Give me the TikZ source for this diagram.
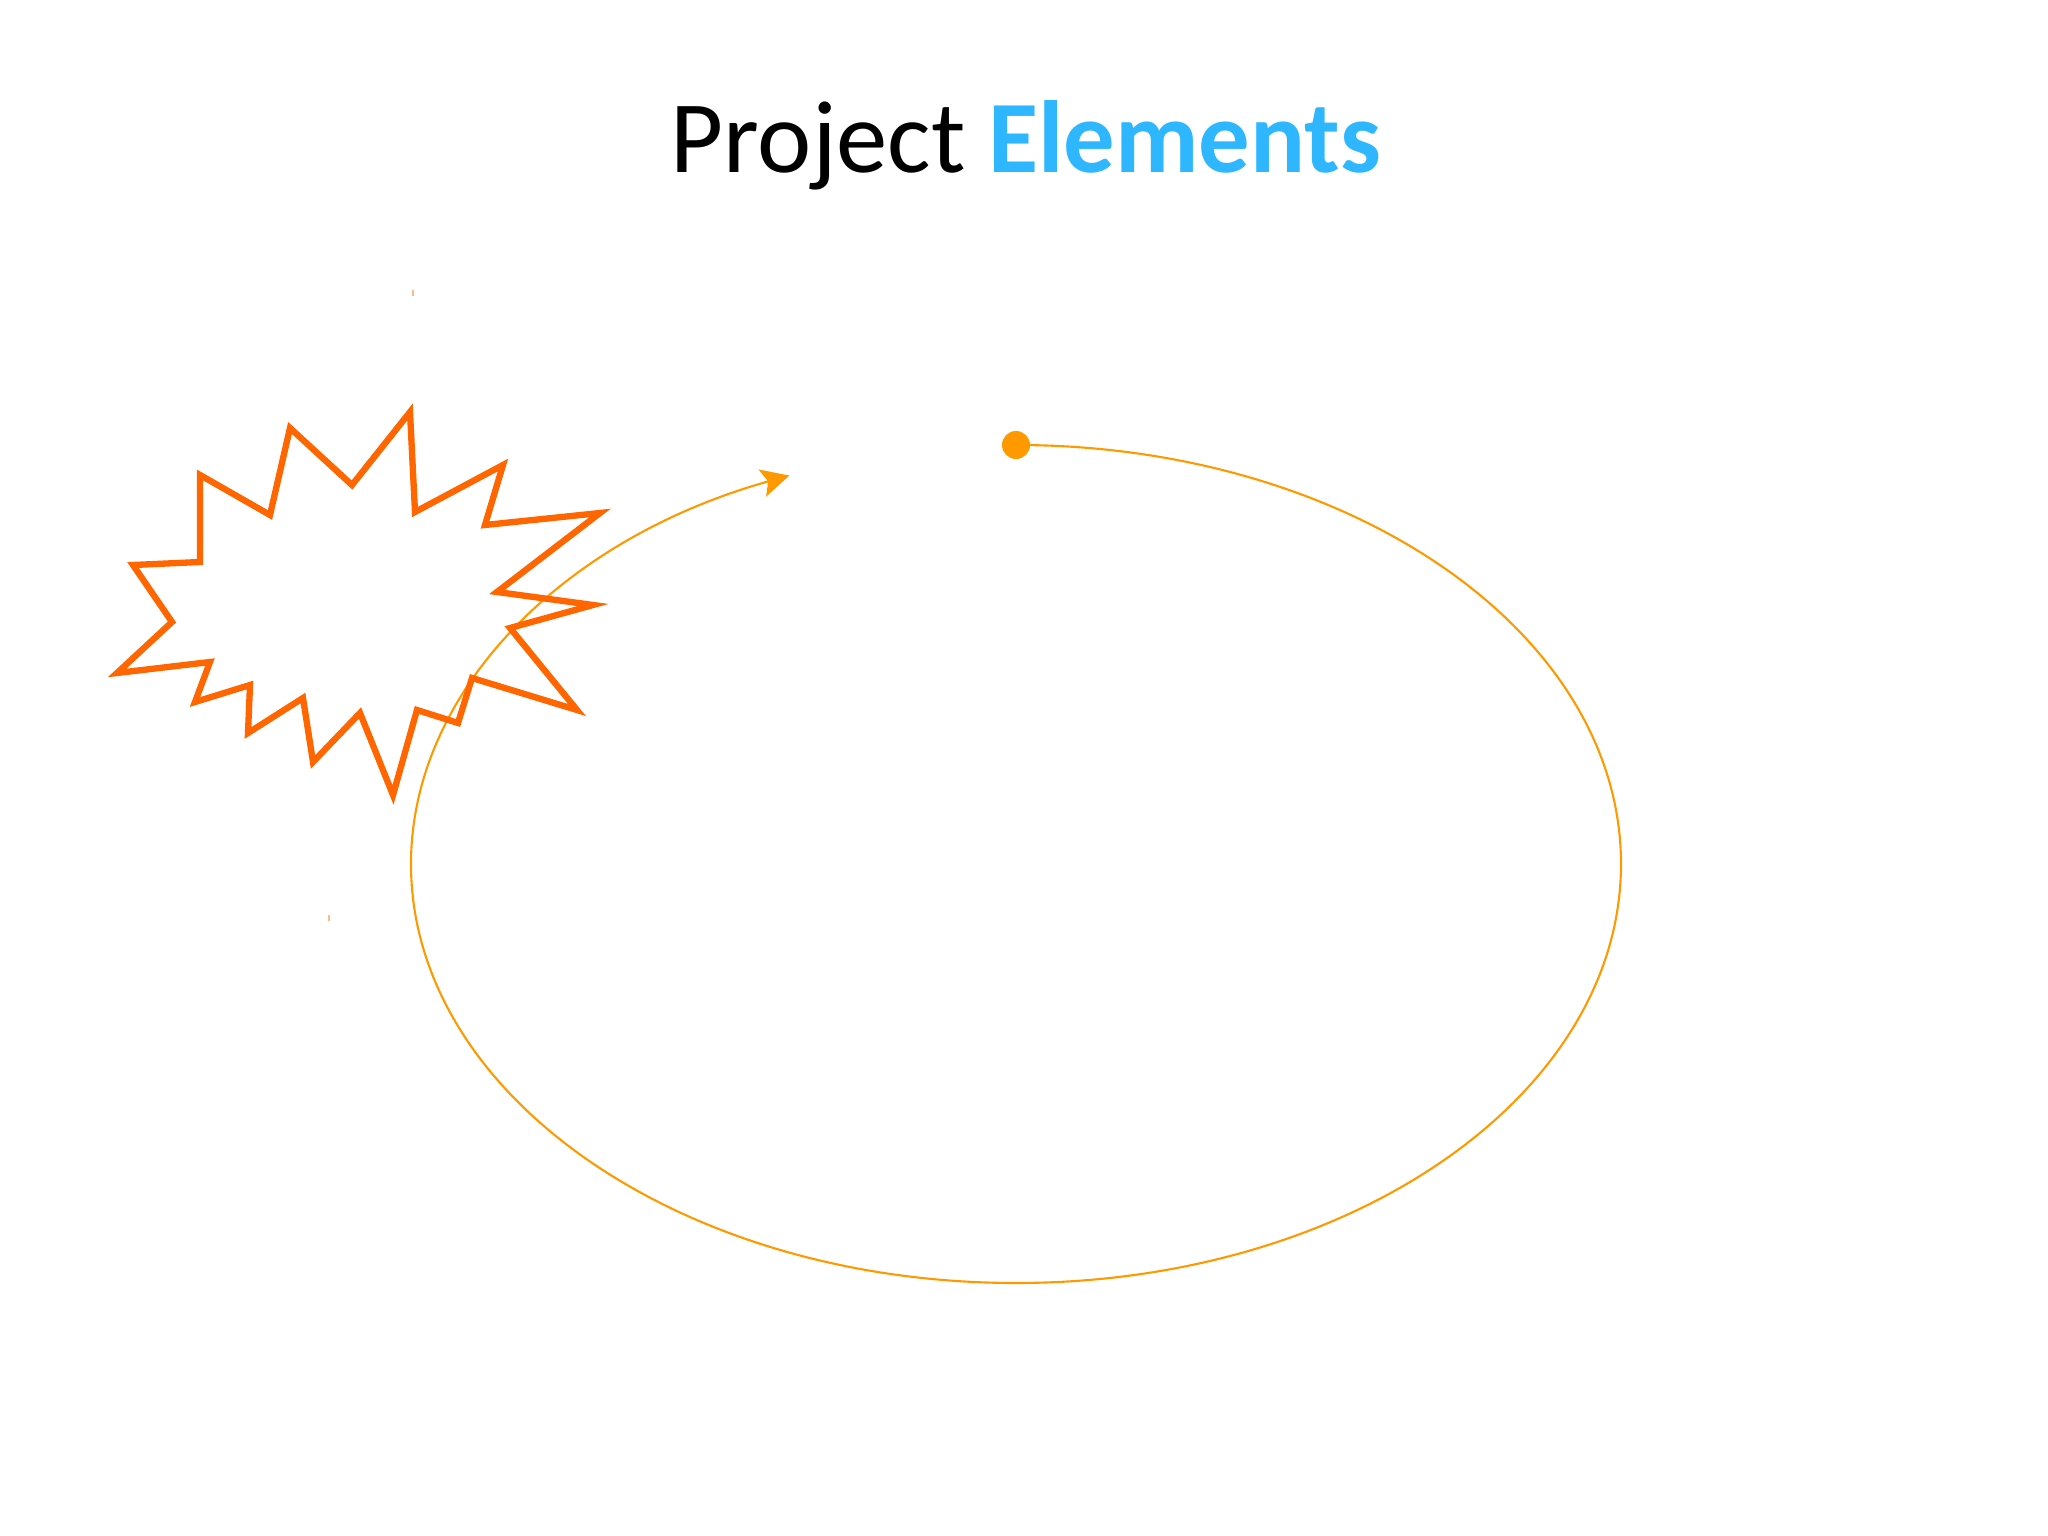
\documentclass[tikz,border=0pt]{standalone}
\usepackage{fontspec}
\setmainfont{Carlito}
\usepackage{tikz}
\usetikzlibrary{arrows.meta}
\usepackage{xcolor}
\definecolor{orbitorange}{RGB}{255,153,0}
\definecolor{burstorange}{RGB}{255,102,0}
\definecolor{titleblue}{RGB}{46,182,255}
\tikzset{%
    orbit/.style={draw=orbitorange, line width=0.6pt},
    burst/.style={draw=burstorange, line width=1.8pt, line join=miter},
    speck/.style={draw=burstorange!45, line width=0.4pt}
}

\begin{document}
\begin{tikzpicture}
    \useasboundingbox (0,0) rectangle (20.48,-15.36);
    \node[anchor=base, inner sep=0pt, font=\fontsize{29.2}{35}\selectfont] (title) at (10.26,-1.73)
        {Project \textcolor{titleblue}{\bfseries Elements}};
    % orbit round the centre, from the dot back to the arrow
    \coordinate (centre) at (10.16,-8.64);
    \fill[color=orbitorange] (10.16,-4.45) circle (0.14);
    \draw[orbit, -{Stealth[length=0.28cm, width=0.28cm, inset=0.06cm]}]
        (10.16,-4.45) arc[start angle=90, end angle=-248, x radius=6.05, y radius=4.19];
    % starburst
    \draw[burst] plot coordinates {
        (4.10,-4.12) (4.15,-5.12) (5.03,-4.65) (4.85,-5.25) (6.00,-5.13)
        (4.97,-5.92) (5.93,-6.05) (5.10,-6.28) (5.77,-7.10) (4.72,-6.78)
        (4.58,-7.23) (4.17,-7.10) (3.93,-7.95) (3.60,-7.13) (3.13,-7.62)
        (3.03,-6.98) (2.48,-7.33) (2.50,-6.85) (1.95,-7.02) (2.10,-6.62)
        (1.17,-6.73) (1.72,-6.22) (1.33,-5.65) (2.00,-5.62) (2.00,-4.75)
        (2.70,-5.15) (2.90,-4.28) (3.52,-4.85)
    } -- cycle;
    \draw[speck] (4.13,-2.90) -- (4.13,-2.96);
    \draw[speck] (3.29,-9.15) -- (3.29,-9.21);
\end{tikzpicture}
\end{document}
